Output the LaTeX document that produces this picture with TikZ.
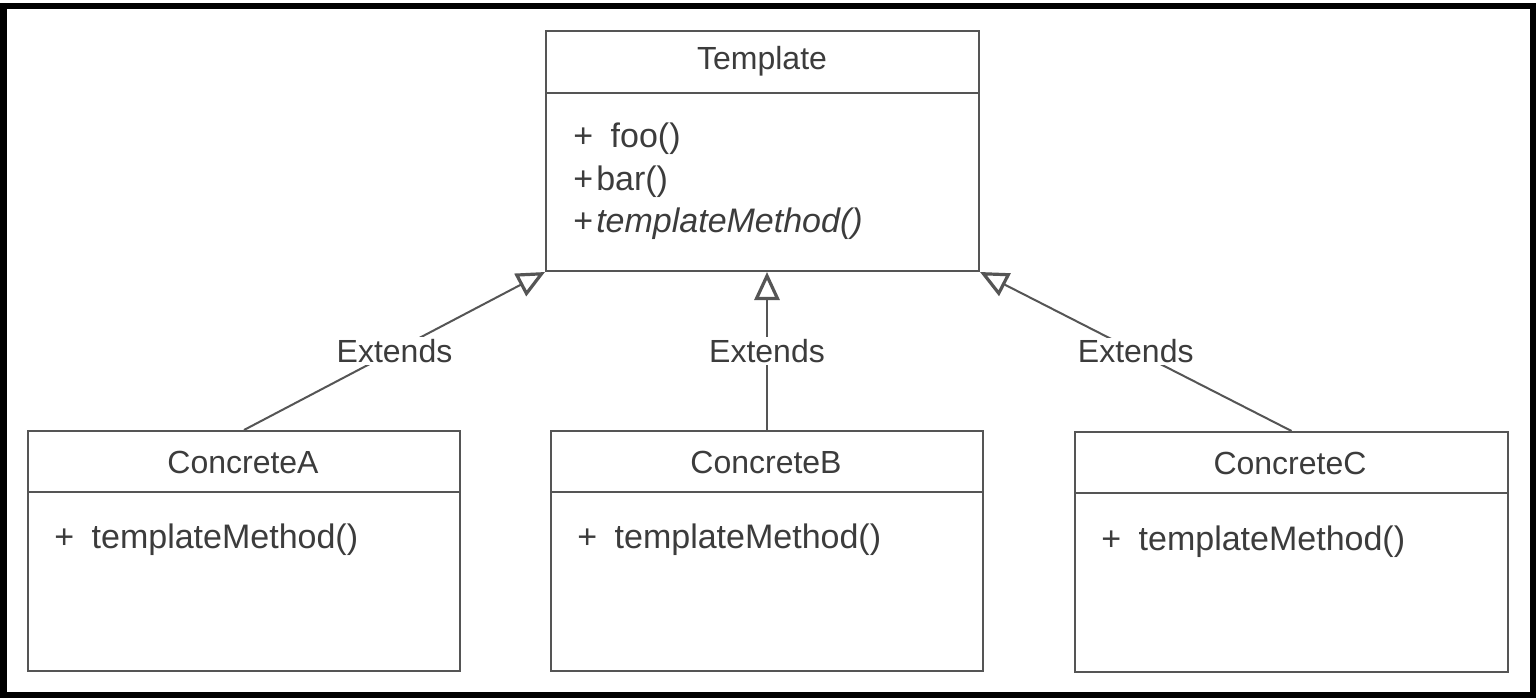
\documentclass[tikz,border=0pt]{standalone}
\usepackage{fontspec}
\setmainfont{Liberation Sans}
\usetikzlibrary{arrows.meta}
\definecolor{txtgray}{HTML}{3C3C3C}
\definecolor{linegray}{HTML}{555555}
\tikzset{
  umlbox/.style={draw=linegray, line width=1pt, anchor=north west, inner sep=0pt,
    minimum width=216.5pt, minimum height=120pt},
  sepline/.style={draw=linegray, line width=1pt},
  umltext/.style={text=txtgray, font=\fontsize{16pt}{19pt}\selectfont, inner sep=0pt},
  methtext/.style={text=txtgray, font=\fontsize{17pt}{20pt}\selectfont, inner sep=0pt, anchor=base west},
  extline/.style={draw=linegray, line width=1pt,
    -{Triangle[open, length=14pt, width=12.5pt, line width=1.6pt]}},
  extlabel/.style={fill=white, text=txtgray, font=\fontsize{16pt}{19pt}\selectfont, inner sep=1pt}
}
\newcommand{\plusgap}{+\hspace{4pt} }
\begin{document}
\begin{tikzpicture}[x=0.5pt,y=-0.5pt]
\useasboundingbox (0,0) rectangle (1536,700);
\fill[white] (0,0) rectangle (1536,700);
\draw[line width=3pt, black] (3.5,6.5) rectangle (1532.5,695);

% Template
\node[umlbox] (T) at (545,30) {};
\draw[sepline] ([yshift=-31.5pt]T.north west) -- ([yshift=-31.5pt]T.north east);
\node[umltext, anchor=base] (Tname) at (762,70) {Template};
\node[methtext] (Tm1) at (573,148) {\plusgap foo()};
\node[methtext] (Tm2) at (573,191) {+\hspace{1.5pt}bar()};
\node[methtext] (Tm3) at (573,233) {+\hspace{1.5pt}\textit{templateMethod()}};

% ConcreteA
\node[umlbox, minimum width=216pt] (A) at (27,430) {};
\draw[sepline] ([yshift=-31pt]A.north west) -- ([yshift=-31pt]A.north east);
\node[umltext, anchor=base] (Aname) at (243,473) {ConcreteA};
\node[methtext] (Am) at (54,548) {\plusgap templateMethod()};

% ConcreteB
\node[umlbox, minimum width=216pt] (B) at (550,430) {};
\draw[sepline] ([yshift=-31pt]B.north west) -- ([yshift=-31pt]B.north east);
\node[umltext, anchor=base] (Bname) at (766,473) {ConcreteB};
\node[methtext] (Bm) at (577,548) {\plusgap templateMethod()};

% ConcreteC
\node[umlbox] (C) at (1074,431) {};
\draw[sepline] ([yshift=-31pt]C.north west) -- ([yshift=-31pt]C.north east);
\node[umltext, anchor=base] (Cname) at (1290,474) {ConcreteC};
\node[methtext] (Cm) at (1101,550) {\plusgap templateMethod()};

% Generalisations
\draw[extline] (A.north) -- node[extlabel, pos=0.5] (LA) {Extends} (T.south west);
\draw[extline] (B.north) -- node[extlabel, pos=0.5] (LB) {Extends} (B.north |- T.south);
\draw[extline] (C.north) -- node[extlabel, pos=0.5] (LC) {Extends} (T.south east);
\end{tikzpicture}
\end{document}
